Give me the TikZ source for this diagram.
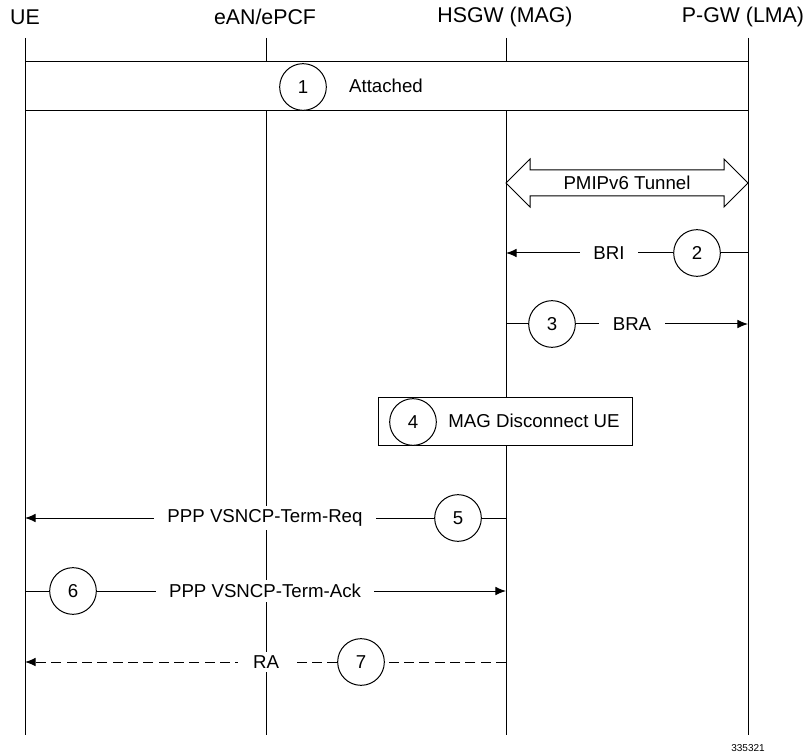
\documentclass[tikz,border=0pt]{standalone}
\usepackage{fontspec}
\setmainfont{Liberation Sans}
\usetikzlibrary{arrows.meta}
\tikzset{
  entity/.style={font=\fontsize{16}{19}\selectfont},
  stepnum/.style={draw,circle,fill=white,minimum size=35pt,inner sep=0pt},
  msglabel/.style={fill=white,inner xsep=10pt,inner ysep=3pt},
  msg/.style={-{Latex[length=8pt,width=6.5pt]}},
}

\begin{document}
\begin{tikzpicture}[x=0.75pt,y=-0.75pt,line width=0.75pt,
    font=\fontsize{14}{16}\selectfont]

      \useasboundingbox (0,0) rectangle (806,755);

      % entities and lifelines
      \node[entity] (ue) at (25,17) {UE};
      \node[entity] (ean) at (265,17) {eAN/ePCF};
      \node[entity] (hsgw) at (505,17) {HSGW (MAG)};
      \node[entity] (pgw) at (743,17) {P-GW (LMA)};

      \coordinate (top) at (0,38);
      \coordinate (bottom) at (0,735);
      \draw (ue |- top) -- (ue |- bottom);
      \draw (266,38) coordinate (ean top) -- (266,735);
      \draw (506,38) coordinate (hsgw top) -- (506,735);
      \draw (748,38) coordinate (pgw top) -- (748,735);

      % 1
      \node[draw,fill=white,minimum width=542.25pt,minimum height=36.75pt,inner sep=0pt]
        (attached) at (386.5,86.5) {};
      \node[stepnum] (s1) at (303,87) {1};
      \node (attachedtxt) at (386,86) {Attached};

      % tunnel
      \draw[fill=white] (hsgw top |- 0,183) -- (530,159) -- (530,170) -- (724,170) -- (724,159)
        -- (pgw top |- 0,183) -- (724,207) -- (724,196) -- (530,196) -- (530,207) -- cycle;
      \node (tunnel) at (627,183) {PMIPv6 Tunnel};

      % 2
      \node[stepnum] (s2) at (697,253) {2};
      \draw (s2 -| pgw top) -- (s2.east);
      \draw[msg] (s2.west) -- (s2 -| hsgw top);
      \node[msglabel] (bri) at (609,253) {BRI};

      % 3
      \node[stepnum] (s3) at (552,324) {3};
      \draw (s3 -| hsgw top) -- (s3.west);
      \draw[msg] (s3.east) -- (s3 -| pgw top);
      \node[msglabel] (bra) at (632,324) {BRA};

      % 4
      \node[draw,fill=white,minimum width=190.5pt,minimum height=36pt,inner sep=0pt]
        (disc) at (505,421) {};
      \node[stepnum] (s4) at (413,422) {4};
      \node (disctxt) at (534,421) {MAG Disconnect UE};

      % 5
      \node[stepnum] (s5) at (458,518) {5};
      \draw (s5 -| hsgw top) -- (s5.east);
      \draw[msg] (s5.west) -- (s5 -| ue);
      \node[msglabel] (req) at (265,518) {PPP VSNCP-Term-Req};

      % 6
      \node[stepnum] (s6) at (73,591) {6};
      \draw (s6 -| ue) -- (s6.west);
      \draw[msg] (s6.east) -- (s6 -| hsgw top);
      \node[msglabel] (ack) at (265,591) {PPP VSNCP-Term-Ack};

      % 7
      \node[stepnum] (s7) at (361,662) {7};
      \draw[dash pattern=on 7.5pt off 4pt] (s7 -| hsgw top) -- (s7.east);
      \draw[msg,dash pattern=on 7.5pt off 4pt] (s7.west) -- (s7 -| ue);
      \node[msglabel,inner xsep=11pt] (ra) at (266,662) {RA};

      \node[font=\fontsize{7.5}{9}\selectfont] (fig) at (748,748) {335321};

\end{tikzpicture}
\end{document}
